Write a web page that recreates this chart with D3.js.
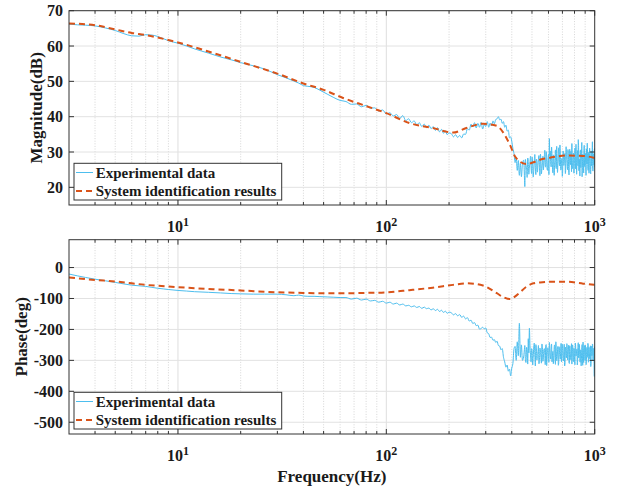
<!DOCTYPE html>
<html>
<head>
<meta charset="utf-8">
<script src="https://cdn.jsdelivr.net/npm/d3@7"></script>
<style>
  html, body { margin: 0; padding: 0; background: #fff; }
  svg { display: block; }
  text { font-family: "Liberation Serif", "Times New Roman", serif; font-weight: bold; fill: #1a1a1a; }
</style>
</head>
<body>
<svg id="chart" width="623" height="491"></svg>
<script>
// Identified model response (sampled along frequency)
const fitFreq  = [3, 4, 5, 6, 7, 8, 10, 15, 20, 30, 40, 50, 62, 80, 100, 129, 167, 209, 242, 291, 339, 365, 392, 414, 435, 470, 508, 546, 610, 733, 880, 1000];
const fitMag   = [66.4, 65.9, 64.7, 63.7, 63.1, 62.4, 61.0, 57.9, 55.5, 52.2, 49.4, 47.6, 45.3, 43.0, 41.0, 38.2, 36.8, 35.5, 36.8, 38.0, 37.4, 35.4, 32.0, 28.8, 27.4, 26.6, 27.1, 27.8, 28.4, 29.0, 28.9, 28.3];
const fitPhase = [-32, -40, -45, -51, -56, -59, -63.5, -70, -74, -80, -82, -83, -83, -82, -80, -73, -65, -56, -51, -58, -83, -96, -102, -94, -82, -62, -51, -48, -46, -46, -52, -56];

// Measured response rows: [frequency (Hz), magnitude (dB), phase (deg)]
const expData = [
  [3, 66.2, -21], [3.3, 66.0, -27], [3.6, 65.9, -32], [4, 65.7, -37.6], [4.5, 65.1, -43],
  [5, 64.4, -48], [5.5, 63.5, -53], [6, 62.9, -57], [6.5, 62.8, -59], [7, 63.2, -61],
  [7.5, 63.1, -64], [8, 62.7, -67], [8.5, 62.1, -69], [9, 61.5, -71], [10, 60.8, -74],
  [11, 60.0, -76], [12, 59.2, -78], [14, 58.0, -80], [16, 56.9, -82], [18, 56.1, -84],
  [20, 55.3, -85], [23, 54.4, -86], [26, 53.5, -86], [30, 51.9, -86], [33, 51.0, -88],
  [36, 50.1, -91], [38, 49.5, -89], [40, 48.8, -92], [42, 48.6, -93], [45, 48.3, -93],
  [48, 47.5, -94], [52, 46.4, -95], [56, 45.4, -96], [60, 44.6, -97],
  [64, 44.3, -97], [68, 43.5, -102], [72, 43.6, -99], [76, 42.8, -105], [80, 43.2, -102],
  [84, 42.4, -108], [88, 42.5, -106], [92, 41.6, -112], [96, 41.9, -109], [100, 40.8, -115],
  [104, 41.1, -112], [108, 40.2, -118], [112, 40.6, -115], [116, 39.5, -121], [120, 40.3, -118],
  [124, 38.9, -124], [128, 39.4, -122], [132, 38.3, -127], [136, 38.8, -124], [140, 37.7, -129],
  [144, 38.3, -126], [148, 37.2, -132], [152, 37.9, -128], [156, 36.9, -133], [160, 37.6, -131],
  [164, 36.6, -137], [168, 37.2, -133], [172, 36.1, -139], [176, 36.9, -135], [180, 35.7, -142],
  [184, 36.4, -138], [188, 35.3, -145], [192, 36.0, -141], [196, 34.9, -148], [200, 35.4, -144],
  [205, 35.2, -146], [210, 34.3, -153], [215, 34.9, -149], [220, 34.1, -156], [225, 34.7, -152],
  [230, 34.0, -161], [235, 35.1, -157], [240, 35.0, -166], [245, 36.6, -162], [250, 36.2, -173],
  [255, 37.9, -170], [260, 37.1, -181], [265, 38.3, -178], [270, 36.8, -188], [275, 38.1, -186],
  [280, 37.0, -199], [285, 38.4, -197], [290, 36.5, -193], [295, 37.8, -198], [300, 37.2, -195],
  [305, 38.6, -211], [310, 37.0, -214], [315, 38.2, -226], [320, 37.4, -225], [325, 38.8, -235],
  [330, 38.0, -233], [335, 39.2, -242], [340, 39.4, -238], [345, 40.0, -252], [350, 39.1, -254],
  [355, 39.3, -266], [360, 38.1, -262], [365, 38.6, -290], [370, 37.0, -305], [375, 37.6, -322],
  [380, 35.9, -315], [385, 36.2, -335], [390, 34.0, -328], [395, 34.3, -350], [400, 33.0, -325],
  [405, 31.0, -310], [410, 29.5, -262], [415, 27.0, -255], [420, 28.5, -300], [425, 24.8, -240],
  [430, 27.6, -285], [435, 23.4, -180], [440, 26.8, -290], [445, 23.0, -250], [450, 26.6, -300],
  [456, 27.7, -289], [462, 20.2, -252], [468, 26.4, -307], [474, 22.8, -269], [480, 27.3, -230],
  [486, 25.5, -196], [492, 28.8, -282], [498, 23.9, -262], [504, 26.3, -315], [510, 25.1, -257],
  [516, 29.3, -286], [522, 23.6, -249], [528, 27.4, -299], [534, 26.2, -273], [540, 29.0, -311],
  [546, 23.3, -260], [552, 27.7, -291], [558, 25.4, -247], [564, 28.8, -303], [570, 26.3, -266],
  [576, 30.5, -280], [582, 25.7, -253], [588, 28.1, -317], [594, 24.8, -264], [600, 29.3, -297],
  [606, 33.8, -242], [612, 30.3, -285], [618, 25.8, -258], [624, 28.9, -305], [630, 24.1, -271],
  [636, 28.4, -293], [642, 26.5, -250], [648, 30.6, -313], [654, 25.3, -267], [660, 27.8, -289],
  [666, 26.8, -255], [672, 31.2, -308], [678, 26.1, -274], [684, 29.0, -296], [690, 25.1, -245],
  [696, 28.2, -284], [702, 24.6, -261], [708, 29.9, -302], [714, 27.1, -248], [720, 29.6, -312],
  [726, 25.4, -268], [732, 28.5, -292], [738, 26.3, -256], [744, 30.7, -281], [750, 24.9, -251],
  [756, 28.8, -310], [762, 27.3, -265], [768, 30.2, -298], [774, 24.4, -246], [780, 28.0, -287],
  [786, 26.0, -259], [792, 29.7, -304], [798, 26.7, -270], [804, 31.1, -314], [810, 25.2, -254],
  [816, 28.3, -283], [822, 27.5, -263], [828, 30.4, -301], [834, 33.5, -243], [840, 24.7, -288],
  [846, 26.4, -257], [852, 30.0, -306], [858, 25.6, -272], [864, 28.6, -294], [870, 23.0, -249],
  [876, 29.4, -316], [882, 27.0, -262], [888, 30.5, -286], [894, 25.9, -252], [900, 27.9, -300],
  [906, 25.1, -275], [912, 30.9, -309], [918, 26.6, -258], [924, 29.1, -290], [930, 24.8, -247],
  [936, 28.5, -303], [942, 27.2, -269], [948, 30.1, -295], [954, 24.5, -253], [960, 28.7, -313],
  [966, 26.1, -266], [972, 29.8, -282], [978, 25.3, -250], [984, 28.1, -298], [990, 26.5, -261],
  [996, 30.7, -352], [1000, 25.7, -267],
  [459, 24.6, -270], [465, 27.9, -298], [471, 25.0, -258], [477, 28.3, -312], [483, 23.7, -276],
  [489, 27.1, -251], [495, 25.8, -305], [501, 28.6, -268], [507, 22.9, -290], [513, 27.5, -244],
  [519, 25.2, -318], [525, 28.0, -263], [531, 24.3, -284], [537, 27.9, -252], [543, 25.6, -300],
  [549, 29.4, -270], [555, 23.8, -309], [561, 27.0, -255], [567, 24.9, -292], [573, 28.7, -262],
  [579, 26.2, -314], [585, 30.1, -249], [591, 25.1, -288], [597, 27.9, -259], [603, 23.6, -306],
  [609, 29.0, -266], [615, 26.9, -296], [621, 31.4, -247], [627, 25.7, -283], [633, 29.2, -311],
  [639, 23.4, -258], [645, 28.1, -290], [651, 26.0, -240], [657, 31.6, -301], [663, 24.2, -270],
  [669, 29.3, -316], [675, 27.0, -256], [681, 32.0, -287], [687, 24.9, -263], [693, 27.7, -305],
  [699, 23.1, -248], [705, 30.3, -294], [711, 26.2, -272], [717, 28.9, -318], [723, 23.9, -257],
  [729, 31.5, -285], [735, 27.6, -246], [741, 25.0, -299], [747, 29.5, -264], [753, 23.5, -309],
  [759, 30.8, -253], [765, 26.4, -291], [771, 28.9, -268], [777, 32.4, -312], [783, 25.3, -250],
  [789, 29.1, -297], [795, 24.0, -261], [801, 28.4, -305], [807, 27.0, -244], [813, 32.2, -286],
  [819, 23.7, -270], [825, 29.0, -315], [831, 26.1, -255], [837, 31.3, -292], [843, 28.0, -248],
  [849, 23.2, -302], [855, 30.6, -266], [861, 27.3, -318], [867, 32.7, -259], [873, 25.6, -284],
  [879, 28.8, -241], [885, 24.1, -307], [891, 31.9, -263], [897, 26.9, -296], [903, 29.6, -251],
  [909, 23.4, -314], [915, 28.2, -272], [921, 32.5, -289], [927, 25.8, -245], [933, 29.9, -306],
  [939, 24.0, -258], [945, 31.1, -293], [951, 27.4, -266], [957, 23.8, -320], [963, 30.2, -254],
  [969, 27.8, -285], [975, 32.9, -247], [981, 24.6, -302], [987, 29.5, -268], [993, 26.3, -311],
  [999, 31.0, -256]
];

const freqDomain  = [3, 1000];
const magDomain   = [15, 70];
const phaseDomain = [-538, 90];
const magTicks    = [20, 30, 40, 50, 60, 70];
const phaseTicks  = [-500, -400, -300, -200, -100, 0];
const decadeTicks = [10, 100, 1000];
const legendLabels = ["Experimental data", "System identification results"];

const colExp = "#4DBEEE";
const colFit = "#D95319";

// measured rows ordered by frequency for drawing
const expSorted = expData.slice().sort((a, b) => a[0] - b[0]);

const svg = d3.select("#chart");
const L = 69, R = 594.7;

const x = d3.scaleLog().domain(freqDomain).range([L, R]);
const minorTicks = x.ticks().filter(v => {
  const m = v / Math.pow(10, Math.floor(Math.log10(v) + 1e-9));
  return Math.abs(m - 1) > 1e-6 && v > freqDomain[0] + 1e-6 && v < freqDomain[1] - 1e-6;
});

const panels = [
  { key: "mag",   top: 10.7,  bottom: 205, domain: magDomain,   ticks: magTicks,   idx: 1, fit: fitMag,   label: "Magnitude(dB)", labelX: 41.5 },
  { key: "phase", top: 239.7, bottom: 434, domain: phaseDomain, ticks: phaseTicks, idx: 2, fit: fitPhase, label: "Phase(deg)",    labelX: 26.5 }
];

panels.forEach(p => {
  const y = d3.scaleLinear().domain(p.domain).range([p.bottom, p.top]);
  const g = svg.append("g");

  // clip region for the plotted curves
  const clipId = "clip-" + p.key;
  svg.append("clipPath").attr("id", clipId)
    .append("rect").attr("x", L).attr("y", p.top).attr("width", R - L).attr("height", p.bottom - p.top);

  // grid: minor (dotted) and major (solid)
  g.selectAll(".gxm").data(minorTicks).join("line")
    .attr("x1", d => x(d)).attr("x2", d => x(d))
    .attr("y1", p.top).attr("y2", p.bottom)
    .attr("stroke", "#c4c4c4").attr("stroke-width", 0.7).attr("stroke-dasharray", "1,1.6");
  g.selectAll(".gx").data(decadeTicks.filter(d => d < freqDomain[1])).join("line")
    .attr("x1", d => x(d)).attr("x2", d => x(d))
    .attr("y1", p.top).attr("y2", p.bottom)
    .attr("stroke", "#dedede").attr("stroke-width", 1);
  g.selectAll(".gy").data(p.ticks).join("line")
    .attr("x1", L).attr("x2", R)
    .attr("y1", d => y(d)).attr("y2", d => y(d))
    .attr("stroke", "#e2e2e2").attr("stroke-width", 1);

  // curves
  const curves = g.append("g").attr("clip-path", `url(#${clipId})`);
  const expLine = d3.line().x(d => x(d[0])).y(d => y(d[p.idx])).curve(d3.curveMonotoneX);
  curves.append("path").datum(expSorted)
    .attr("d", expLine).attr("fill", "none")
    .attr("stroke", colExp).attr("stroke-width", 1).attr("stroke-linejoin", "round");
  const fitLine = d3.line().x((d, i) => x(fitFreq[i])).y(d => y(d)).curve(d3.curveMonotoneX);
  curves.append("path").datum(p.fit)
    .attr("d", fitLine).attr("fill", "none")
    .attr("stroke", colFit).attr("stroke-width", 2).attr("stroke-dasharray", "6,4");

  // frame
  g.append("rect").attr("x", L).attr("y", p.top).attr("width", R - L).attr("height", p.bottom - p.top)
    .attr("fill", "none").attr("stroke", "#333").attr("stroke-width", 1);

  // y ticks on both sides (inward)
  p.ticks.forEach(t => {
    const yy = y(t);
    g.append("line").attr("x1", L).attr("x2", L + 5).attr("y1", yy).attr("y2", yy).attr("stroke", "#333");
    g.append("line").attr("x1", R - 5).attr("x2", R).attr("y1", yy).attr("y2", yy).attr("stroke", "#333");
  });
  // x ticks top and bottom (inward)
  decadeTicks.forEach(t => {
    const xx = x(t);
    g.append("line").attr("x1", xx).attr("x2", xx).attr("y1", p.bottom).attr("y2", p.bottom - 5).attr("stroke", "#333");
    g.append("line").attr("x1", xx).attr("x2", xx).attr("y1", p.top).attr("y2", p.top + 5).attr("stroke", "#333");
  });
  minorTicks.forEach(t => {
    const xx = x(t);
    g.append("line").attr("x1", xx).attr("x2", xx).attr("y1", p.bottom).attr("y2", p.bottom - 3).attr("stroke", "#333");
    g.append("line").attr("x1", xx).attr("x2", xx).attr("y1", p.top).attr("y2", p.top + 3).attr("stroke", "#333");
  });

  // y tick labels
  g.selectAll(".yl").data(p.ticks).join("text")
    .attr("x", L - 6).attr("y", d => y(d)).attr("dy", "0.35em")
    .attr("text-anchor", "end").attr("font-size", 16)
    .text(d => d);

  // x tick labels 10^n
  decadeTicks.forEach(t => {
    const txt = g.append("text").attr("x", x(t)).attr("y", p.bottom + 26.7)
      .attr("text-anchor", "middle").attr("font-size", 16);
    txt.append("tspan").text("10");
    txt.append("tspan").attr("font-size", 12).attr("dy", -6).text(Math.round(Math.log10(t)));
  });

  // axis title
  g.append("text")
    .attr("transform", `translate(${p.labelX},${(p.top + p.bottom) / 2}) rotate(-90)`)
    .attr("text-anchor", "middle").attr("font-size", 17)
    .text(p.label);

  // legend
  const lx = 74, lw = 207.7, lh = 36.7;
  const ly = p.bottom - 5 - lh;
  const lg = g.append("g");
  lg.append("rect").attr("x", lx).attr("y", ly).attr("width", lw).attr("height", lh)
    .attr("fill", "#fff").attr("stroke", "#333").attr("stroke-width", 1);
  const rows = [
    { label: legendLabels[0], color: colExp, width: 1, dash: null, dy: 9.2 },
    { label: legendLabels[1], color: colFit, width: 2, dash: "6,4", dy: 27.6 }
  ];
  rows.forEach(r => {
    lg.append("line").attr("x1", lx + 2).attr("x2", lx + 19)
      .attr("y1", ly + r.dy).attr("y2", ly + r.dy)
      .attr("stroke", r.color).attr("stroke-width", r.width)
      .attr("stroke-dasharray", r.dash);
    lg.append("text").attr("x", lx + 21.7).attr("y", ly + r.dy + 5.2)
      .attr("font-size", 15).text(r.label);
  });
});

// shared frequency axis title
svg.append("text").attr("x", (L + R) / 2).attr("y", 481.5)
  .attr("text-anchor", "middle").attr("font-size", 17)
  .text("Frequency(Hz)");
</script>
</body>
</html>
